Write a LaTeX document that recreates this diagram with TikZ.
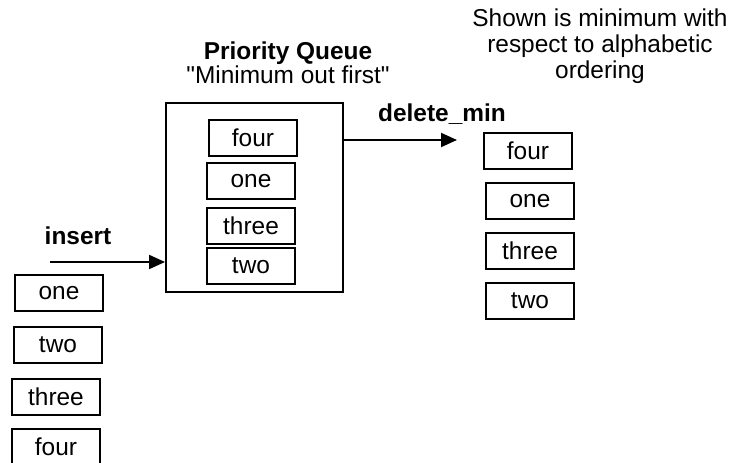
\documentclass[tikz,border=0pt]{standalone}
\usepackage{fontspec}
\setmainfont{Liberation Sans}[Ligatures=TeXOff]
\usepackage{tikz}
\usetikzlibrary{arrows.meta,positioning}

\begin{document}
\begin{tikzpicture}[scale=1.0,
    item/.style={draw,line width=1.1pt,minimum width=1.76cm,minimum height=0.72cm,inner sep=0pt,font=\fontsize{13.9}{14.8}\selectfont},
    lbl/.style={font=\fontsize{13.9}{14.8}\selectfont\bfseries,inner sep=0pt},
    op/.style={line width=1.1pt,-{Triangle[length=0.32cm,width=0.28cm]}}]
    \useasboundingbox (0,0) rectangle (14.74,9.26);
    % input sequence
    \node[item] (in1) at (1.18,3.40) {one};
    \node[item] (in2) at (1.16,2.36) {two};
    \node[item] (in3) at (1.12,1.32) {three};
    \node[item] (in4) at (1.12,0.32) {four};
    % the queue
    \node[draw,line width=1.1pt,minimum width=3.54cm,minimum height=3.78cm] (pq) at (5.09,5.31) {};
    \node[item] (q1) at (5.06,6.50) {four};
    \node[item] (q2) at (5.02,5.64) {one};
    \node[item] (q3) at (5.02,4.74) {three};
    \node[item] (q4) at (5.02,3.94) {two};
    \node[lbl] (title) at (5.76,8.20) {Priority Queue};
    \node[inner sep=0pt,font=\fontsize{13.9}{14.8}\selectfont,below=0.5pt of title] (motto) {"Minimum out first"};
    % output sequence
    \node[item] (out1) at (10.56,6.24) {four};
    \node[item] (out2) at (10.60,5.24) {one};
    \node[item] (out3) at (10.60,4.24) {three};
    \node[item] (out4) at (10.60,3.24) {two};
    \node[align=center,inner sep=0pt,font=\fontsize{13.9}{14.8}\selectfont] (note) at (12.0,8.34)
        {Shown is minimum with\\respect to alphabetic\\ordering};
    % operations
    \coordinate (insfrom) at (1.0,4.02);
    \coordinate (delto) at (9.14,6.46);
    \draw[op] (insfrom) -- (insfrom -| pq.west);
    \node[lbl] (ins) at (1.56,4.54) {insert};
    \draw[op] (delto -| pq.east) -- (delto);
    \node[lbl] (del) at (8.84,6.98) {delete\_min};
\end{tikzpicture}
\end{document}
